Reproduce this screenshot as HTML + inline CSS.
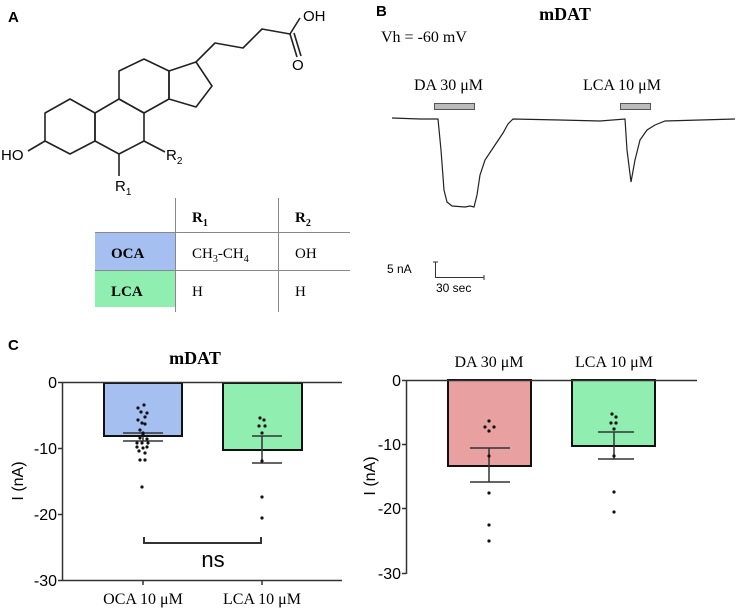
<!DOCTYPE html>
<html><head><meta charset="utf-8"><style>
html,body{margin:0;padding:0;background:#fff;}
svg{display:block;}
.sf{font-family:"Liberation Serif",serif;}
.ss{font-family:"Liberation Sans",sans-serif;}
</style></head><body>
<svg width="737" height="612" viewBox="0 0 737 612" xmlns="http://www.w3.org/2000/svg">
<!-- Panel A -->
<text x="8" y="22" class="ss" font-size="15" font-weight="bold">A</text>
<g fill="none" stroke="#222" stroke-width="1.6" stroke-linejoin="round">
<polygon points="45,113 70,99 95,113 95,141 70,154 45,141"/>
<polygon points="95,113 119,99 144,113 144,141 119,154 95,141"/>
<polygon points="119,99 119,71 144,59 169,71 169,99 144,113"/>
<polygon points="169,71 196,62 212,86 196,107 169,99"/>
<line x1="45" y1="141" x2="28" y2="151"/>
<line x1="119" y1="154" x2="119" y2="176"/>
<line x1="144" y1="141" x2="165" y2="152"/>
<polyline points="196,62 215,43 243,48 262,29 290,34 300,18"/>
<line x1="290" y1="34" x2="297" y2="57"/>
<line x1="294" y1="33" x2="301" y2="56"/>
</g>
<text x="1" y="160" class="ss" font-size="15">HO</text>
<text x="166" y="160" class="ss" font-size="15">R<tspan font-size="10" dy="4">2</tspan></text>
<text x="115" y="191" class="ss" font-size="15">R<tspan font-size="10" dy="4">1</tspan></text>
<text x="303" y="21" class="ss" font-size="15">OH</text>
<text x="292" y="70" class="ss" font-size="15">O</text>
<!-- table -->
<rect x="95" y="232" width="80" height="38" fill="#a4bff0"/>
<rect x="95" y="270" width="80" height="37" fill="#90eeb0"/>
<g stroke="#888" stroke-width="1">
<line x1="175.5" y1="198" x2="175.5" y2="312"/>
<line x1="278.5" y1="198" x2="278.5" y2="312"/>
<line x1="95" y1="232.5" x2="350" y2="232.5"/>
<line x1="95" y1="270.5" x2="350" y2="270.5"/>
</g>
<g class="sf" font-size="15">
<text x="192" y="222" font-weight="bold">R<tspan font-size="10" dy="4">1</tspan></text>
<text x="295" y="222" font-weight="bold">R<tspan font-size="10" dy="4">2</tspan></text>
<text x="111" y="258" font-weight="bold">OCA</text>
<text x="111" y="296" font-weight="bold">LCA</text>
<text x="192" y="258">CH<tspan font-size="10" dy="4">3</tspan><tspan dy="-4">-CH</tspan><tspan font-size="10" dy="4">4</tspan></text>
<text x="295" y="258">OH</text>
<text x="192" y="296">H</text>
<text x="295" y="296">H</text>
</g>
<!-- Panel B -->
<text x="376" y="16" class="ss" font-size="15" font-weight="bold">B</text>
<text x="565" y="20" class="sf" font-size="18" font-weight="bold" text-anchor="middle">mDAT</text>
<text x="381" y="42" class="sf" font-size="16">Vh = -60 mV</text>
<text x="414" y="90" class="sf" font-size="16">DA 30 μM</text>
<text x="583" y="90" class="sf" font-size="16">LCA 10 μM</text>
<rect x="434.5" y="103.5" width="40" height="6" fill="#bbb" stroke="#555" stroke-width="1"/>
<rect x="620.5" y="103.5" width="30" height="6" fill="#bbb" stroke="#555" stroke-width="1"/>
<polyline fill="none" stroke="#222" stroke-width="1.2" points="392,118 420,119 438,119 441,150 444,190 447,202 452,206 465,207 470,206 474,207 477,195 480,175 485,160 495,145 503,133 508,124 513,119 560,120 600,121 625,119 627,150 631,182 635,160 640,140 647,130 655,125 665,121 700,120 735,119"/>
<g stroke="#333" stroke-width="1" fill="none">
<line x1="435.5" y1="262" x2="435.5" y2="277"/>
<line x1="433" y1="262" x2="438" y2="262"/>
<line x1="435" y1="277.5" x2="484" y2="277.5"/>
<line x1="484" y1="275" x2="484" y2="280"/>
</g>
<text x="387" y="273" class="ss" font-size="12">5 nA</text>
<text x="436" y="292" class="ss" font-size="12">30 sec</text>
<!-- Panel C -->
<text x="8" y="350" class="ss" font-size="15" font-weight="bold">C</text>
<text x="195" y="364" class="sf" font-size="18" font-weight="bold" text-anchor="middle">mDAT</text>
<!-- left chart -->
<rect x="104" y="383" width="78" height="53" fill="#a4bff0" stroke="#111" stroke-width="2"/>
<rect x="223" y="383" width="79" height="67" fill="#90eeb0" stroke="#111" stroke-width="2"/>
<g stroke="#333" stroke-width="1.5" fill="none">
<line x1="62" y1="382.5" x2="342" y2="382.5"/>
<line x1="62" y1="580.5" x2="342" y2="580.5"/>
<line x1="62.5" y1="382" x2="62.5" y2="581"/>
<line x1="58" y1="382.5" x2="62" y2="382.5"/>
<line x1="58" y1="448.5" x2="62" y2="448.5"/>
<line x1="58" y1="514.5" x2="62" y2="514.5"/>
<line x1="58" y1="580.5" x2="62" y2="580.5"/>
<line x1="143" y1="580" x2="143" y2="585"/>
<line x1="262" y1="580" x2="262" y2="585"/>
<line x1="123" y1="433" x2="163" y2="433"/>
<line x1="123" y1="441" x2="163" y2="441"/>
<line x1="143" y1="433" x2="143" y2="441"/>
<line x1="252" y1="436" x2="282" y2="436"/>
<line x1="252" y1="463" x2="282" y2="463"/>
<line x1="262" y1="436" x2="262" y2="463"/>
<polyline points="144,537 144,543 261,543 261,537" stroke-width="2"/>
</g>
<g class="ss" font-size="16" text-anchor="end">
<text x="57" y="388">0</text><text x="57" y="454">-10</text><text x="57" y="520">-20</text><text x="57" y="586">-30</text>
</g>
<text transform="translate(23,481) rotate(-90)" class="ss" font-size="16" text-anchor="middle">I (nA)</text>
<text x="213" y="567" class="ss" font-size="22" text-anchor="middle">ns</text>
<text x="143" y="604" class="sf" font-size="16" text-anchor="middle">OCA 10 μM</text>
<text x="262" y="604" class="sf" font-size="16" text-anchor="middle">LCA 10 μM</text>
<g fill="#111">
<circle cx="144" cy="405" r="1.6"/><circle cx="138" cy="408" r="1.6"/><circle cx="141" cy="412" r="1.6"/><circle cx="147" cy="413" r="1.6"/><circle cx="145" cy="417" r="1.6"/><circle cx="138" cy="420" r="1.6"/><circle cx="142" cy="423" r="1.6"/><circle cx="145" cy="424" r="1.6"/><circle cx="140" cy="430" r="1.6"/><circle cx="143" cy="433" r="1.6"/><circle cx="143" cy="435" r="1.6"/><circle cx="140" cy="438" r="1.6"/><circle cx="147" cy="439" r="1.6"/><circle cx="137" cy="443" r="1.6"/><circle cx="142" cy="443" r="1.6"/><circle cx="148" cy="443" r="1.6"/><circle cx="137" cy="447" r="1.6"/><circle cx="143" cy="448" r="1.6"/><circle cx="147" cy="447" r="1.6"/><circle cx="139" cy="451" r="1.6"/><circle cx="145" cy="453" r="1.6"/><circle cx="140" cy="460" r="1.6"/><circle cx="145" cy="460" r="1.6"/><circle cx="142" cy="487" r="1.6"/>
<circle cx="260" cy="418" r="1.6"/><circle cx="264" cy="420" r="1.6"/><circle cx="259" cy="426" r="1.6"/><circle cx="265" cy="426" r="1.6"/><circle cx="262" cy="433" r="1.6"/><circle cx="262" cy="461" r="1.6"/><circle cx="262" cy="497" r="1.6"/><circle cx="262" cy="518" r="1.6"/>
</g>
<!-- right chart -->
<text x="489" y="367" class="sf" font-size="16" text-anchor="middle">DA 30 μM</text>
<text x="614" y="367" class="sf" font-size="16" text-anchor="middle">LCA 10 μM</text>
<rect x="448" y="380" width="83" height="86" fill="#e8a0a0" stroke="#111" stroke-width="2"/>
<rect x="572" y="380" width="83" height="66" fill="#90eeb0" stroke="#111" stroke-width="2"/>
<g stroke="#333" stroke-width="1.5" fill="none">
<line x1="406" y1="380.5" x2="697" y2="380.5"/>
<line x1="406.5" y1="380" x2="406.5" y2="574"/>
<line x1="402" y1="380.5" x2="406" y2="380.5"/>
<line x1="402" y1="444.5" x2="406" y2="444.5"/>
<line x1="402" y1="508.5" x2="406" y2="508.5"/>
<line x1="402" y1="573.5" x2="406" y2="573.5"/>
<line x1="470" y1="448" x2="510" y2="448"/>
<line x1="470" y1="482" x2="510" y2="482"/>
<line x1="489" y1="448" x2="489" y2="482"/>
<line x1="598" y1="432" x2="634" y2="432"/>
<line x1="598" y1="459" x2="634" y2="459"/>
<line x1="614" y1="432" x2="614" y2="459"/>
</g>
<g class="ss" font-size="16" text-anchor="end">
<text x="401" y="386">0</text><text x="401" y="450">-10</text><text x="401" y="514">-20</text><text x="401" y="579">-30</text>
</g>
<text transform="translate(375,476) rotate(-90)" class="ss" font-size="16" text-anchor="middle">I (nA)</text>
<g fill="#111">
<circle cx="489" cy="421" r="1.6"/><circle cx="485" cy="427" r="1.6"/><circle cx="494" cy="427" r="1.6"/><circle cx="489" cy="431" r="1.6"/><circle cx="489" cy="456" r="1.6"/><circle cx="489" cy="493" r="1.6"/><circle cx="489" cy="525" r="1.6"/><circle cx="489" cy="541" r="1.6"/>
<circle cx="612" cy="414" r="1.6"/><circle cx="616" cy="417" r="1.6"/><circle cx="611" cy="423" r="1.6"/><circle cx="616" cy="423" r="1.6"/><circle cx="614" cy="429" r="1.6"/><circle cx="614" cy="456" r="1.6"/><circle cx="614" cy="492" r="1.6"/><circle cx="614" cy="512" r="1.6"/>
</g>
</svg>
</body></html>
